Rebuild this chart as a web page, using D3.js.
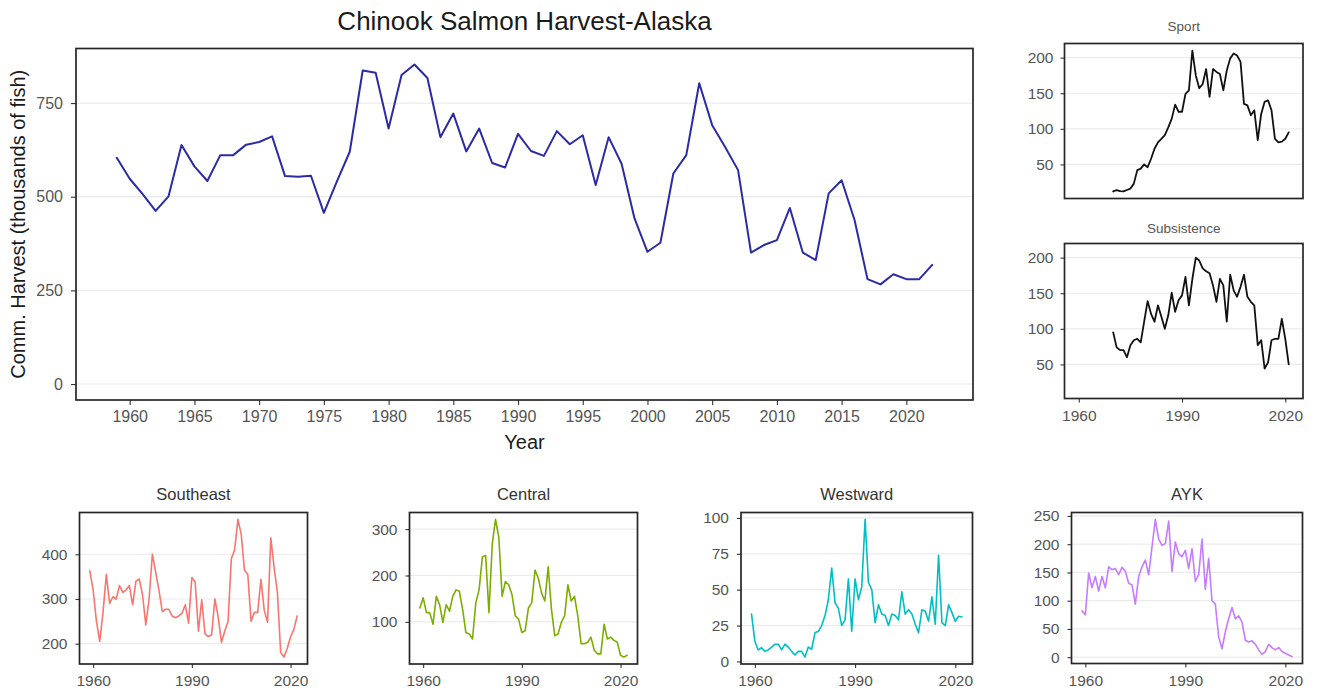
<!DOCTYPE html>
<html>
<head>
<meta charset="utf-8">
<title>Chinook Salmon Harvest-Alaska</title>
<script src="https://cdn.jsdelivr.net/npm/d3@7"></script>
<style>
  html, body { margin: 0; padding: 0; background: #ffffff; }
  svg { display: block; font-family: "Liberation Sans", Arial, Helvetica, sans-serif; }
</style>
</head>
<body>
<svg id="chart" width="1319" height="694"></svg>
<script>
// ---- Data (thousands of fish) ----
const regionFirstYear = 1959, regionLastYear = 2022;
const fisheryFirstYear = 1970, fisheryLastYear = 2021;

const commercialHarvest = [
  604, 548, 507, 462, 501, 638, 581, 542, 611, 611,
  639, 646, 661, 555, 553, 556, 457, 540, 620, 837,
  831, 682, 825, 853, 817, 659, 722, 621, 682, 590,
  578, 668, 622, 609, 675, 640, 664, 531, 659, 588,
  442, 353, 377, 562, 611, 803, 691, 633, 571, 351,
  371, 384, 470, 351, 331, 509, 544, 438, 280, 266,
  293, 280, 280, 318
];

const sportHarvest = [
  12, 14, 12.5, 12, 14, 16, 23, 42, 44, 50,
  46, 58, 72, 81, 86, 91, 102, 114, 134, 124,
  124, 149, 154, 210, 175, 157, 163, 184, 145, 184,
  180, 177, 154, 182, 199, 206, 203, 194, 135, 133,
  119, 126, 84, 121, 138, 140, 126, 86, 81, 82,
  86, 95
];

const subsistenceHarvest = [
  95, 74, 70, 70, 60, 77, 84, 86, 81, 110,
  139, 121, 110, 133, 117, 100, 119, 151, 124, 140,
  147, 173, 133, 170, 200, 196, 185, 181, 178, 161,
  138, 170, 161, 110, 176, 154, 145, 159, 176, 145,
  138, 133, 77, 84, 44, 53, 84, 86, 86, 114,
  86, 50
];

const southeastHarvest = [
  363, 320, 250, 205, 270, 355, 290, 305, 300, 330,
  315, 320, 330, 287, 340, 345, 310, 242, 300, 400,
  360, 320, 272, 277, 277, 262, 258, 262, 268, 287,
  246, 348, 338, 228, 298, 222, 216, 220, 300, 260,
  203, 228, 250, 390, 410, 478, 445, 364, 355, 250,
  270, 270, 344, 275, 248, 437, 370, 315, 180, 170,
  190, 215, 232, 262
];

const centralHarvest = [
  130, 152, 120, 120, 95, 155, 137, 99, 137, 123,
  155, 169, 166, 127, 77, 74, 63, 141, 169, 240,
  243, 120, 268, 321, 282, 155, 187, 180, 159, 113,
  106, 77, 81, 130, 141, 212, 194, 162, 145, 219,
  127, 70, 74, 99, 113, 180, 145, 155, 113, 53,
  53, 56, 67, 39, 31, 31, 95, 63, 67, 60,
  56, 28, 24, 28
];

const westwardHarvest = [
  33, 14, 8, 9.5, 7, 8, 10, 12, 12, 8,
  12, 10, 7, 4.5, 7, 7, 3, 10, 8.5, 20,
  21, 25, 32, 43, 65, 41, 37, 25, 29, 57.5,
  21, 57.5, 43, 52, 99, 55, 50, 27, 39.5, 33,
  32, 25, 33, 32, 29, 48.5, 33, 36, 33, 26,
  20, 36, 35, 28, 45, 26, 74, 27, 25, 39.5,
  34, 28, 31.5, 31
];

const aykHarvest = [
  82, 75, 149, 123, 143, 117, 143, 123, 160, 155,
  157, 146, 159, 152, 131, 128, 94, 143, 160, 172,
  146, 195, 244, 209, 198, 201, 241, 152, 204, 183,
  178, 189, 157, 192, 134, 146, 209, 120, 175, 100,
  94, 36, 15, 45, 68, 88, 68, 73, 62, 30,
  27, 29, 23, 13, 5, 10, 23, 17, 13, 17,
  10, 7, 4, 1
];

const mainYearTicks = [1960, 1965, 1970, 1975, 1980, 1985, 1990, 1995, 2000, 2005, 2010, 2015, 2020];
const smallYearTicks = [1960, 1990, 2020];
const mainValueTicks = [0, 250, 500, 750];
const fisheryValueTicks = [50, 100, 150, 200];
const southeastTicks = [200, 300, 400];
const centralTicks = [100, 200, 300];
const westwardTicks = [0, 25, 50, 75, 100];
const aykTicks = [0, 50, 100, 150, 200, 250];

const regionYears = d3.range(regionFirstYear, regionLastYear + 1);
const fisheryYears = d3.range(fisheryFirstYear, fisheryLastYear + 1);

// ---- Helpers ----
const svg = d3.select("#chart");

// ggplot-style continuous expansion: 5% of the range on each side
function expand(lo, hi, mult = 0.05) {
  const pad = (hi - lo) * mult;
  return [lo - pad, hi + pad];
}

const xDomain = expand(regionFirstYear, regionLastYear);

function drawPanel(opts) {
  const { box, yDomain, yTicks, xTicks, showXLabels, series, color, lineWidth,
          fontSize, tickSize, xPad, yPad } = opts;
  const g = svg.append("g");
  const x = d3.scaleLinear().domain(xDomain).range([box.left, box.right]);
  const y = d3.scaleLinear().domain(yDomain).range([box.bottom, box.top]);

  // background + horizontal grid
  g.append("rect")
    .attr("x", box.left).attr("y", box.top)
    .attr("width", box.right - box.left).attr("height", box.bottom - box.top)
    .attr("fill", "#ffffff");
  g.append("g").selectAll("line").data(yTicks).join("line")
    .attr("x1", box.left).attr("x2", box.right)
    .attr("y1", d => y(d)).attr("y2", d => y(d))
    .attr("stroke", "#ebebeb").attr("stroke-width", 1.2);

  // series line
  const line = d3.line().x(d => x(d.year)).y(d => y(d.value));
  g.append("path")
    .datum(series)
    .attr("d", line)
    .attr("fill", "none")
    .attr("stroke", color)
    .attr("stroke-width", lineWidth)
    .attr("stroke-linejoin", "round")
    .attr("stroke-linecap", "round");

  // axes
  const yAxis = d3.axisLeft(y).tickValues(yTicks).tickSize(tickSize).tickSizeOuter(0).tickPadding(yPad);
  const ya = g.append("g").attr("transform", `translate(${box.left},0)`).call(yAxis);
  ya.select(".domain").remove();
  ya.selectAll(".tick line").attr("stroke", "#333333").attr("stroke-width", 1.1);
  ya.selectAll(".tick text").attr("fill", "#555555").style("font-size", fontSize + "px")
    .style("font-family", '"Liberation Sans", Arial, sans-serif');

  if (showXLabels) {
    const xAxis = d3.axisBottom(x).tickValues(xTicks).tickSize(tickSize).tickSizeOuter(0)
      .tickPadding(xPad).tickFormat(d3.format("d"));
    const xa = g.append("g").attr("transform", `translate(0,${box.bottom})`).call(xAxis);
    xa.select(".domain").remove();
    xa.selectAll(".tick line").attr("stroke", "#333333").attr("stroke-width", 1.1);
    xa.selectAll(".tick text").attr("fill", "#555555").style("font-size", fontSize + "px")
      .style("font-family", '"Liberation Sans", Arial, sans-serif');
  }

  // panel border
  g.append("rect")
    .attr("x", box.left).attr("y", box.top)
    .attr("width", box.right - box.left).attr("height", box.bottom - box.top)
    .attr("fill", "none").attr("stroke", "#262626").attr("stroke-width", 1.7);
  return g;
}

function toSeries(years, values) {
  return years.map((year, i) => ({ year, value: values[i] }));
}

function addText(txt, x, y, size, fill, extra = {}) {
  const t = svg.append("text")
    .attr("x", x).attr("y", y)
    .attr("text-anchor", "middle")
    .attr("fill", fill)
    .style("font-size", size + "px")
    .text(txt);
  Object.entries(extra).forEach(([k, v]) => t.attr(k, v));
  return t;
}

// ---- Main commercial harvest panel ----
const mainBox = { left: 76, right: 973, top: 48.5, bottom: 400 };
drawPanel({
  box: mainBox,
  yDomain: expand(0, d3.max(commercialHarvest)),
  yTicks: mainValueTicks,
  xTicks: mainYearTicks,
  showXLabels: true,
  series: toSeries(regionYears, commercialHarvest),
  color: "#2b2ba6",
  lineWidth: 2,
  fontSize: 16,
  tickSize: 5,
  xPad: 6,
  yPad: 8
});
addText("Chinook Salmon Harvest-Alaska", (mainBox.left + mainBox.right) / 2, 30, 26, "#1a1a1a");
addText("Year", (mainBox.left + mainBox.right) / 2, 449, 20, "#1a1a1a");
addText("Comm. Harvest (thousands of fish)", 0, 0, 20, "#1a1a1a",
  { transform: `translate(25,${(mainBox.top + mainBox.bottom) / 2}) rotate(-90)` });

// ---- Sport and subsistence panels (shared y scale) ----
const fisheryDomain = expand(
  Math.min(d3.min(sportHarvest), d3.min(subsistenceHarvest)),
  Math.max(d3.max(sportHarvest), d3.max(subsistenceHarvest))
);
const sportBox = { left: 1064.5, right: 1303, top: 43.5, bottom: 198.5 };
const subsBox = { left: 1064.5, right: 1303, top: 243.5, bottom: 398.5 };

drawPanel({
  box: sportBox, yDomain: fisheryDomain, yTicks: fisheryValueTicks, xTicks: smallYearTicks,
  showXLabels: false, series: toSeries(fisheryYears, sportHarvest), color: "#111111",
  lineWidth: 1.8, fontSize: 15.5, tickSize: 4, xPad: 7, yPad: 7
});
addText("Sport", (sportBox.left + sportBox.right) / 2, 31, 13.5, "#555555");

drawPanel({
  box: subsBox, yDomain: fisheryDomain, yTicks: fisheryValueTicks, xTicks: smallYearTicks,
  showXLabels: true, series: toSeries(fisheryYears, subsistenceHarvest), color: "#111111",
  lineWidth: 1.8, fontSize: 15.5, tickSize: 4, xPad: 7, yPad: 7
});
addText("Subsistence", (subsBox.left + subsBox.right) / 2, 233, 13.5, "#555555");

// ---- Regional commercial panels ----
const regions = [
  { name: "Southeast", values: southeastHarvest, ticks: southeastTicks, color: "#F8766D",
    box: { left: 79.5, right: 307.5, top: 512.5, bottom: 664 } },
  { name: "Central", values: centralHarvest, ticks: centralTicks, color: "#7CAE00",
    box: { left: 409.5, right: 637.5, top: 512.5, bottom: 664 } },
  { name: "Westward", values: westwardHarvest, ticks: westwardTicks, color: "#00BFC4",
    box: { left: 741, right: 972.5, top: 512.5, bottom: 664 } },
  { name: "AYK", values: aykHarvest, ticks: aykTicks, color: "#C77CFF",
    box: { left: 1071.5, right: 1302.5, top: 512.5, bottom: 663.5 } }
];

regions.forEach(r => {
  drawPanel({
    box: r.box,
    yDomain: expand(d3.min(r.values), d3.max(r.values)),
    yTicks: r.ticks,
    xTicks: smallYearTicks,
    showXLabels: true,
    series: toSeries(regionYears, r.values),
    color: r.color,
    lineWidth: 1.6,
    fontSize: 15.5,
    tickSize: 4,
    xPad: 7,
    yPad: 8
  });
  addText(r.name, (r.box.left + r.box.right) / 2, 500, 16.5, "#333333");
});
</script>
</body>
</html>
